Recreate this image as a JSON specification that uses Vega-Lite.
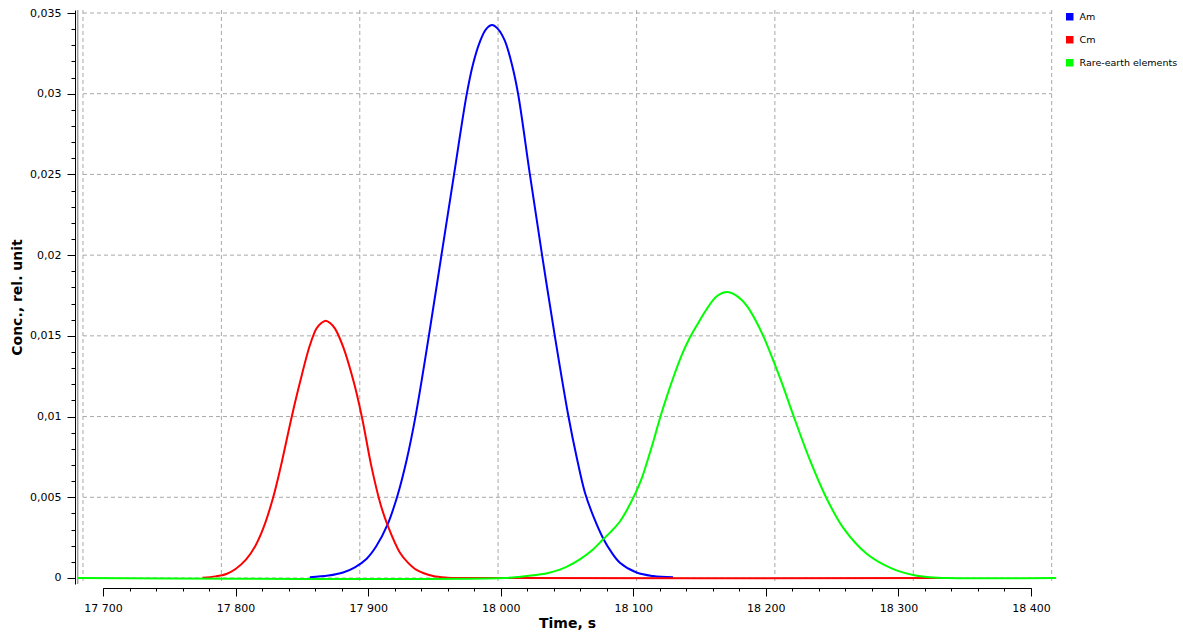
{
  "$schema": "https://vega.github.io/schema/vega-lite/v6.json",
  "autosize": "none",
  "width": 928,
  "height": 574,
  "padding": {"left": 103, "top": 10, "right": 152, "bottom": 50},
  "background": "white",
  "config": {
    "view": {"stroke": null},
    "font": "DejaVu Sans",
    "axis": {"labelFont": "DejaVu Sans", "labelFontSize": 11, "labelColor": "#000000", "tickColor": "#000000", "domainColor": "#000000", "titleFont": "DejaVu Sans", "titleFontSize": 14, "titleFontWeight": "bold", "titleColor": "#000000", "grid": false}
  },
  "datasets": {
    "gridx": [{"gx": 17684.9}, {"gx": 17789.3}, {"gx": 17893.7}, {"gx": 17998.0}, {"gx": 18102.5}, {"gx": 18206.8}, {"gx": 18311.2}, {"gx": 18415.6}],
    "gridy": [{"gy": 0}, {"gy": 0.005}, {"gy": 0.01}, {"gy": 0.015}, {"gy": 0.02}, {"gy": 0.025}, {"gy": 0.03}, {"gy": 0.035}],
    "lines": [
      {"series": "Am", "t": 17856, "c": 0.00005},
      {"series": "Am", "t": 17870, "c": 0.00015},
      {"series": "Am", "t": 17881.1, "c": 0.00034},
      {"series": "Am", "t": 17890, "c": 0.00066},
      {"series": "Am", "t": 17898.7, "c": 0.00118},
      {"series": "Am", "t": 17906, "c": 0.00195},
      {"series": "Am", "t": 17914.6, "c": 0.0033},
      {"series": "Am", "t": 17922.1, "c": 0.0051},
      {"series": "Am", "t": 17929, "c": 0.0073},
      {"series": "Am", "t": 17935.7, "c": 0.01},
      {"series": "Am", "t": 17945.8, "c": 0.015},
      {"series": "Am", "t": 17955.3, "c": 0.02},
      {"series": "Am", "t": 17964.8, "c": 0.025},
      {"series": "Am", "t": 17974.2, "c": 0.0299},
      {"series": "Am", "t": 17979, "c": 0.0318},
      {"series": "Am", "t": 17984.2, "c": 0.0332},
      {"series": "Am", "t": 17989, "c": 0.0340},
      {"series": "Am", "t": 17993.5, "c": 0.03425},
      {"series": "Am", "t": 17998, "c": 0.0340},
      {"series": "Am", "t": 18003, "c": 0.0333},
      {"series": "Am", "t": 18008.5, "c": 0.0318},
      {"series": "Am", "t": 18013.1, "c": 0.0300},
      {"series": "Am", "t": 18022, "c": 0.025},
      {"series": "Am", "t": 18031.2, "c": 0.02},
      {"series": "Am", "t": 18040.8, "c": 0.015},
      {"series": "Am", "t": 18050.9, "c": 0.0101},
      {"series": "Am", "t": 18057.5, "c": 0.0074},
      {"series": "Am", "t": 18063.5, "c": 0.0053},
      {"series": "Am", "t": 18070, "c": 0.0038},
      {"series": "Am", "t": 18077.3, "c": 0.00245},
      {"series": "Am", "t": 18083.5, "c": 0.0016},
      {"series": "Am", "t": 18089.9, "c": 0.00095},
      {"series": "Am", "t": 18102.5, "c": 0.00034},
      {"series": "Am", "t": 18115, "c": 0.00012},
      {"series": "Am", "t": 18130, "c": 0.00004},
      {"series": "Cm", "t": 17775, "c": 0.00002},
      {"series": "Cm", "t": 17785, "c": 0.0001},
      {"series": "Cm", "t": 17793, "c": 0.00025},
      {"series": "Cm", "t": 17800, "c": 0.00056},
      {"series": "Cm", "t": 17808, "c": 0.00115},
      {"series": "Cm", "t": 17815, "c": 0.002},
      {"series": "Cm", "t": 17821, "c": 0.0031},
      {"series": "Cm", "t": 17828.3, "c": 0.00497},
      {"series": "Cm", "t": 17834.1, "c": 0.0069},
      {"series": "Cm", "t": 17842.2, "c": 0.00993},
      {"series": "Cm", "t": 17848.4, "c": 0.01206},
      {"series": "Cm", "t": 17856, "c": 0.0144},
      {"series": "Cm", "t": 17861, "c": 0.01545},
      {"series": "Cm", "t": 17864.5, "c": 0.01578},
      {"series": "Cm", "t": 17868, "c": 0.01594},
      {"series": "Cm", "t": 17871.5, "c": 0.01578},
      {"series": "Cm", "t": 17875, "c": 0.01545},
      {"series": "Cm", "t": 17881.1, "c": 0.01433},
      {"series": "Cm", "t": 17889.4, "c": 0.01206},
      {"series": "Cm", "t": 17895.4, "c": 0.00993},
      {"series": "Cm", "t": 17902.5, "c": 0.0069},
      {"series": "Cm", "t": 17909.5, "c": 0.00452},
      {"series": "Cm", "t": 17915, "c": 0.0032},
      {"series": "Cm", "t": 17923.9, "c": 0.00158},
      {"series": "Cm", "t": 17930, "c": 0.00095},
      {"series": "Cm", "t": 17936.5, "c": 0.0005},
      {"series": "Cm", "t": 17949, "c": 0.00012},
      {"series": "Cm", "t": 17960, "c": 0.00002},
      {"series": "Cm", "t": 17970, "c": 0},
      {"series": "Cm", "t": 18337, "c": 0},
      {"series": "Rare-earth elements", "t": 17681, "c": 0},
      {"series": "Rare-earth elements", "t": 18003, "c": 0},
      {"series": "Rare-earth elements", "t": 18015, "c": 0.00008},
      {"series": "Rare-earth elements", "t": 18024.5, "c": 0.00017},
      {"series": "Rare-earth elements", "t": 18035, "c": 0.0003},
      {"series": "Rare-earth elements", "t": 18044.6, "c": 0.00052},
      {"series": "Rare-earth elements", "t": 18050, "c": 0.0007},
      {"series": "Rare-earth elements", "t": 18059.7, "c": 0.00115},
      {"series": "Rare-earth elements", "t": 18068, "c": 0.00165},
      {"series": "Rare-earth elements", "t": 18077.3, "c": 0.0024},
      {"series": "Rare-earth elements", "t": 18083.5, "c": 0.0029},
      {"series": "Rare-earth elements", "t": 18089.9, "c": 0.0035},
      {"series": "Rare-earth elements", "t": 18095.8, "c": 0.0043},
      {"series": "Rare-earth elements", "t": 18101.9, "c": 0.0053},
      {"series": "Rare-earth elements", "t": 18106.5, "c": 0.0062},
      {"series": "Rare-earth elements", "t": 18111.2, "c": 0.0074},
      {"series": "Rare-earth elements", "t": 18115.6, "c": 0.0086},
      {"series": "Rare-earth elements", "t": 18120.1, "c": 0.0099},
      {"series": "Rare-earth elements", "t": 18125.5, "c": 0.0113},
      {"series": "Rare-earth elements", "t": 18131.4, "c": 0.0127},
      {"series": "Rare-earth elements", "t": 18137, "c": 0.0139},
      {"series": "Rare-earth elements", "t": 18142.7, "c": 0.0149},
      {"series": "Rare-earth elements", "t": 18149, "c": 0.0158},
      {"series": "Rare-earth elements", "t": 18155.3, "c": 0.01665},
      {"series": "Rare-earth elements", "t": 18163, "c": 0.01745},
      {"series": "Rare-earth elements", "t": 18170.8, "c": 0.01771},
      {"series": "Rare-earth elements", "t": 18178, "c": 0.01748},
      {"series": "Rare-earth elements", "t": 18185.5, "c": 0.01688},
      {"series": "Rare-earth elements", "t": 18192, "c": 0.016},
      {"series": "Rare-earth elements", "t": 18198, "c": 0.015},
      {"series": "Rare-earth elements", "t": 18205.5, "c": 0.0135},
      {"series": "Rare-earth elements", "t": 18212, "c": 0.0121},
      {"series": "Rare-earth elements", "t": 18220.6, "c": 0.0101},
      {"series": "Rare-earth elements", "t": 18233.2, "c": 0.00731},
      {"series": "Rare-earth elements", "t": 18245.1, "c": 0.00505},
      {"series": "Rare-earth elements", "t": 18258.4, "c": 0.0031},
      {"series": "Rare-earth elements", "t": 18276, "c": 0.0015},
      {"series": "Rare-earth elements", "t": 18296.1, "c": 0.00055},
      {"series": "Rare-earth elements", "t": 18311.2, "c": 0.00019},
      {"series": "Rare-earth elements", "t": 18323.8, "c": 0.00005},
      {"series": "Rare-earth elements", "t": 18337.6, "c": 0},
      {"series": "Rare-earth elements", "t": 18419, "c": 0}
    ]
  },
  "resolve": {"axis": {"x": "independent", "y": "independent"}},
  "layer": [
    {
      "data": {"name": "gridx"},
      "mark": {"type": "rule", "color": "#a8a8a8", "strokeWidth": 1, "strokeDash": [4, 3]},
      "encoding": {
        "x": {"field": "gx", "type": "quantitative",
          "scale": {"domain": [17700, 18400], "nice": false, "zero": false},
          "axis": {"orient": "bottom", "values": [17700, 17720, 17740, 17760, 17780, 17800, 17820, 17840, 17860, 17880, 17900, 17920, 17940, 17960, 17980, 18000, 18020, 18040, 18060, 18080, 18100, 18120, 18140, 18160, 18180, 18200, 18220, 18240, 18260, 18280, 18300, 18320, 18340, 18360, 18380, 18400],
            "labels": false, "domain": false, "tickSize": 3, "title": null, "offset": 4, "grid": false}}
      }
    },
    {
      "data": {"name": "gridy"},
      "mark": {"type": "rule", "color": "#a8a8a8", "strokeWidth": 1, "strokeDash": [4, 3]},
      "encoding": {
        "x": {"datum": 17684.9, "type": "quantitative", "axis": null},
        "x2": {"datum": 18415.6},
        "y": {"field": "gy", "type": "quantitative",
          "scale": {"domain": [-0.000372, 0.035186], "nice": false, "zero": false},
          "axis": {"orient": "left", "values": [0.001, 0.002, 0.003, 0.004, 0.006, 0.007, 0.008, 0.009, 0.011, 0.012, 0.013, 0.014, 0.016, 0.017, 0.018, 0.019, 0.021, 0.022, 0.023, 0.024, 0.026, 0.027, 0.028, 0.029, 0.031, 0.032, 0.033, 0.034],
            "labels": false, "domain": false, "tickSize": 4, "title": null, "offset": 28, "grid": false}}
      }
    },
    {
      "data": {"values": [{"f": 17680.9}]},
      "mark": {"type": "rule", "color": "#a0a0a0", "strokeWidth": 1.5},
      "encoding": {
        "x": {"field": "f", "type": "quantitative", "axis": null}
      }
    },
    {
      "data": {"name": "lines"},
      "mark": {"type": "line", "strokeWidth": 2, "interpolate": "catmull-rom"},
      "encoding": {
        "x": {"field": "t", "type": "quantitative",
          "scale": {"domain": [17700, 18400], "nice": false, "zero": false},
          "axis": {"orient": "bottom", "values": [17700, 17800, 17900, 18000, 18100, 18200, 18300, 18400],
            "labelExpr": "replace(format(datum.value, ','), ',', ' ')",
            "tickSize": 8, "offset": 4, "labelPadding": 6, "title": "Time, s", "titlePadding": 3, "domain": true, "labelFlush": false}},
        "y": {"field": "c", "type": "quantitative",
          "scale": {"domain": [-0.000372, 0.035186], "nice": false, "zero": false},
          "axis": {"orient": "left", "values": [0, 0.005, 0.01, 0.015, 0.02, 0.025, 0.03, 0.035],
            "labelExpr": "replace(format(datum.value, '~g'), '.', ',')",
            "tickSize": 8, "offset": 28, "labelPadding": 6, "title": "Conc., rel. unit", "titlePadding": 5, "domain": true}},
        "color": {"field": "series", "type": "nominal",
          "scale": {"domain": ["Am", "Cm", "Rare-earth elements"], "range": ["#0000ff", "#ff0000", "#00ff00"]},
          "legend": {"orient": "none", "legendX": 962, "legendY": 2, "title": null,
            "symbolType": "square", "symbolSize": 56, "symbolStrokeWidth": 0,
            "labelFont": "DejaVu Sans", "labelFontSize": 9.5, "labelColor": "#000000", "labelOffset": 5,
            "rowPadding": 12, "padding": 0,
            "encode": {"symbols": {"update": {"fill": {"scale": "color", "field": "value"}, "fillOpacity": {"value": 1}, "stroke": {"value": "transparent"}}}}}}
      }
    }
  ]
}
